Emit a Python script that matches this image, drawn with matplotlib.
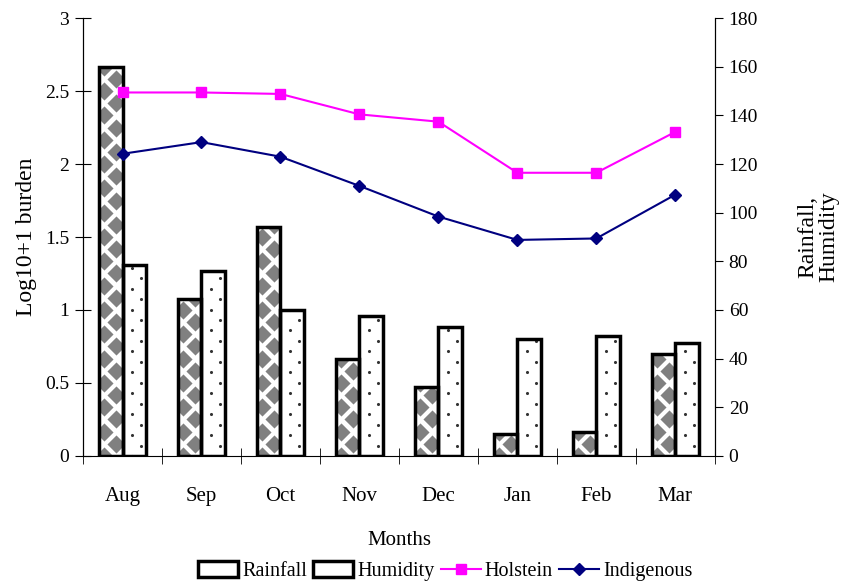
import numpy as np
import matplotlib.pyplot as plt
from matplotlib.patches import Patch
from matplotlib.lines import Line2D

plt.rcParams['font.family'] = ['Liberation Serif', 'DejaVu Serif']
plt.rcParams['font.size'] = 14

months = ['Aug', 'Sep', 'Oct', 'Nov', 'Dec', 'Jan', 'Feb', 'Mar']
rainfall = [160, 64.5, 94, 40, 28.5, 9, 10, 42]
humidity = [78.5, 76, 60, 57.5, 53, 48, 49.5, 46.5]
holstein = [2.49, 2.49, 2.48, 2.34, 2.29, 1.94, 1.94, 2.22]
indigenous = [2.07, 2.15, 2.05, 1.85, 1.64, 1.48, 1.49, 1.79]

x = np.arange(len(months))
w = 0.30

fig = plt.figure(figsize=(8.48, 5.87), dpi=100)
ax_bar = fig.add_axes([0.0979, 0.2232, 0.7450, 0.7461])
ax_line = ax_bar.twinx()


def fill_pattern(ax, bars, col_frac, step, size, color, marker):
    # repeat a small marker over each bar, clipped to the bar outline
    for b in bars:
        x0, y0 = b.get_x(), b.get_y()
        bw, bh = b.get_width(), b.get_height()
        for k, fx in enumerate(col_frac):
            ys = np.arange(y0 + (k * step / 2), y0 + bh + step, step)
            pts = ax.scatter(np.full(len(ys), x0 + fx * bw), ys, s=size,
                             marker=marker, color=color, linewidths=0,
                             zorder=2)
            pts.set_clip_path(b)


# bars (right axis scale)
rb = ax_bar.bar(x - w / 2, rainfall, w, color='white', edgecolor='none', zorder=1)
hb = ax_bar.bar(x + w / 2, humidity, w, color='white', edgecolor='none', zorder=1)
fill_pattern(ax_bar, rb, [0.22, 0.72], 10, 85, '#808080', 'D')
fill_pattern(ax_bar, hb, [0.4, 0.78], 8.6, 5, '#333333', 'o')
ax_bar.bar(x - w / 2, rainfall, w, fill=False, edgecolor='black', linewidth=2.5, zorder=3)
ax_bar.bar(x + w / 2, humidity, w, fill=False, edgecolor='black', linewidth=2.5, zorder=3)

# lines (left axis scale)
ax_line.plot(x, holstein, color='#FF00FF', marker='s', markersize=7, linewidth=1.5)
ax_line.plot(x, indigenous, color='#000080', marker='D', markersize=6.5, linewidth=1.5)

ax_bar.set_xlim(-0.5, 7.5)
ax_bar.set_ylim(0, 180)
ax_bar.set_yticks(np.arange(0, 181, 20))
ax_line.set_ylim(0, 3)
ax_line.set_yticks(np.arange(0, 3.01, 0.5))
ax_line.set_yticklabels(['0', '0.5', '1', '1.5', '2', '2.5', '3'])

# swap sides: bars read on the right, lines on the left
ax_bar.yaxis.tick_right()
ax_bar.yaxis.set_label_position('right')
ax_line.yaxis.tick_left()
ax_line.yaxis.set_label_position('left')

for a in (ax_bar, ax_line):
    a.spines['top'].set_visible(False)
ax_line.spines['bottom'].set_visible(False)

ax_bar.set_xticks(x)
ax_bar.set_xticklabels(months, fontsize=15)
ax_bar.set_xticks(np.arange(-0.5, 8, 1), minor=True)
ax_bar.tick_params(axis='x', which='major', length=0, pad=22)
ax_bar.tick_params(axis='x', which='minor', direction='inout', length=12)
ax_bar.tick_params(axis='y', direction='out', length=6, pad=4)
ax_line.tick_params(axis='y', direction='inout', length=12, pad=4)

ax_line.set_ylabel('Log10+1 burden', fontsize=17, labelpad=6)
ax_bar.set_ylabel('Rainfall,\nHumidity', fontsize=17, labelpad=28, rotation=90,
                  linespacing=1.0)
ax_bar.set_xlabel('Months', fontsize=15, labelpad=18)

handles = [
    Patch(facecolor='white', edgecolor='black', linewidth=2.5, label='Rainfall'),
    Patch(facecolor='white', edgecolor='black', linewidth=2.5, label='Humidity'),
    Line2D([], [], color='#FF00FF', marker='s', markersize=7, linewidth=1.5, label='Holstein'),
    Line2D([], [], color='#000080', marker='D', markersize=6.5, linewidth=1.5, label='Indigenous'),
]
fig.legend(handles=handles, loc='center', bbox_to_anchor=(0.525, 0.027), ncol=4,
           frameon=False, handlelength=2.0, handleheight=0.8, columnspacing=0.3,
           handletextpad=0.2, fontsize=14.5)

fig.savefig('out.png', dpi=100)
